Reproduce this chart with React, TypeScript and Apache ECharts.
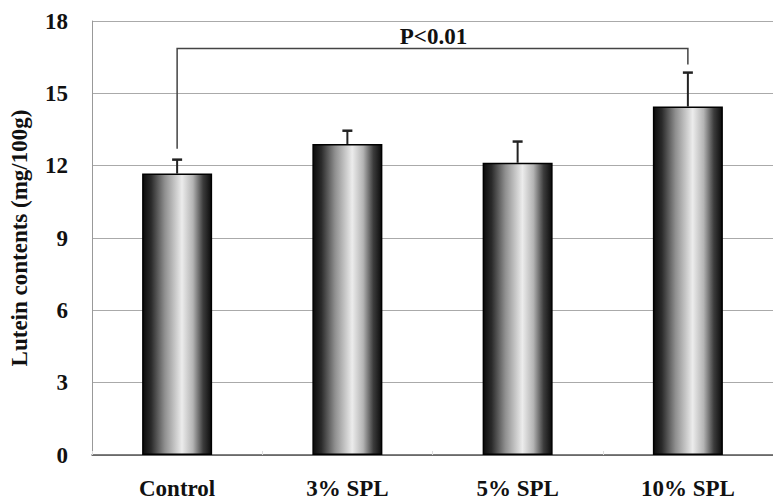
import React, { useEffect, useRef } from "react";
import * as echarts from "echarts";

const categories = ["Control", "3% SPL", "5% SPL", "10% SPL"];
const means = [11.67, 12.9, 12.12, 14.45];
const errorTops = [12.25, 13.45, 13.0, 15.86];
const yTicks = { min: 0, max: 18, interval: 3 };
// significance bracket: from category index 0 to 3
const bracketFrom = 0;
const bracketTo = 3;
const bracketLevel = 16.86;
const bracketLeftEnd = 12.7;
const bracketRightEnd = 16.2;
const sigLabel = "P<0.01";
const sigLabelBetween = [1, 2]; // label centred between these categories
const sigLabelLevel = 17.36;

const FONT = "'Liberation Serif', 'Times New Roman', serif";

export default function App() {
  const ref = useRef<HTMLDivElement>(null);
  useEffect(() => {
    if (!ref.current) return;
    const chart = echarts.init(ref.current, undefined, { renderer: "svg" });
    const barGradient = new echarts.graphic.LinearGradient(0, 0, 1, 0, [
      { offset: 0, color: "#0c0c0c" },
      { offset: 0.12, color: "#2a2a2a" },
      { offset: 0.32, color: "#8f8f8f" },
      { offset: 0.57, color: "#ececec" },
      { offset: 0.73, color: "#b4b4b4" },
      { offset: 0.88, color: "#3c3c3c" },
      { offset: 1, color: "#0c0c0c" },
    ]);
    chart.setOption({
      animation: false,
      backgroundColor: "#ffffff",
      grid: { left: 92, top: 21, width: 692, bottom: 46, containLabel: false },
      xAxis: {
        type: "category",
        data: categories,
        axisLine: { show: true, lineStyle: { color: "#555", width: 1.5 } },
        axisTick: { show: true, inside: true, length: 4, lineStyle: { color: "#ddd" } },
        axisLabel: {
          color: "#111",
          fontFamily: FONT,
          fontWeight: "bold",
          fontSize: 23,
          margin: 22,
        },
      },
      yAxis: {
        type: "value",
        min: yTicks.min,
        max: yTicks.max,
        interval: yTicks.interval,
        name: "Lutein contents (mg/100g)",
        nameLocation: "middle",
        nameGap: 61,
        nameRotate: 90,
        nameTextStyle: {
          color: "#111",
          fontFamily: FONT,
          fontWeight: "bold",
          fontSize: 23,
        },
        axisLine: { show: true, lineStyle: { color: "#999", width: 1 } },
        axisTick: { show: false },
        splitLine: { show: true, lineStyle: { color: "#aaa", width: 1 } },
        axisLabel: {
          color: "#111",
          fontFamily: FONT,
          fontWeight: "bold",
          fontSize: 23,
          margin: 24,
        },
      },
      series: [
        {
          type: "bar",
          data: means,
          barWidth: 70,
          barGap: "0%",
          itemStyle: { color: barGradient, borderColor: "#000", borderWidth: 1.5 },
          z: 2,
        },
        {
          type: "custom",
          z: 3,
          data: errorTops.map((t, i) => [i, means[i], t]),
          renderItem: (params: any, api: any) => {
            const x = api.value(0);
            const lo = api.coord([x, api.value(1)]);
            const hi = api.coord([x, api.value(2)]);
            const cap = 5;
            return {
              type: "group",
              children: [
                {
                  type: "line",
                  shape: { x1: lo[0], y1: lo[1], x2: hi[0], y2: hi[1] },
                  style: { stroke: "#222", lineWidth: 2 },
                },
                {
                  type: "line",
                  shape: { x1: hi[0] - cap, y1: hi[1], x2: hi[0] + cap, y2: hi[1] },
                  style: { stroke: "#222", lineWidth: 2.5 },
                },
              ],
            };
          },
        },
        {
          type: "custom",
          z: 3,
          data: [[bracketFrom, bracketTo, bracketLevel, bracketLeftEnd, bracketRightEnd]],
          renderItem: (params: any, api: any) => {
            const a = api.coord([api.value(0), api.value(3)]);
            const b = api.coord([api.value(0), api.value(2)]);
            const c = api.coord([api.value(1), api.value(2)]);
            const d = api.coord([api.value(1), api.value(4)]);
            const t1 = api.coord([sigLabelBetween[0], sigLabelLevel]);
            const t2 = api.coord([sigLabelBetween[1], sigLabelLevel]);
            return {
              type: "group",
              children: [
                {
                  type: "polyline",
                  shape: { points: [a, b, c, d] },
                  style: { stroke: "#444", lineWidth: 1.5, fill: "none" },
                },
                {
                  type: "text",
                  x: (t1[0] + t2[0]) / 2 + 1,
                  y: t1[1],
                  style: {
                    text: sigLabel,
                    fill: "#111",
                    font: `bold 23px ${FONT}`,
                    align: "center",
                    verticalAlign: "middle",
                  },
                },
              ],
            };
          },
        },
      ],
    });
    return () => chart.dispose();
  }, []);
  return (
    <div
      ref={ref}
      style={{ position: "fixed", left: 0, top: 0, width: 773, height: 501 }}
    />
  );
}
